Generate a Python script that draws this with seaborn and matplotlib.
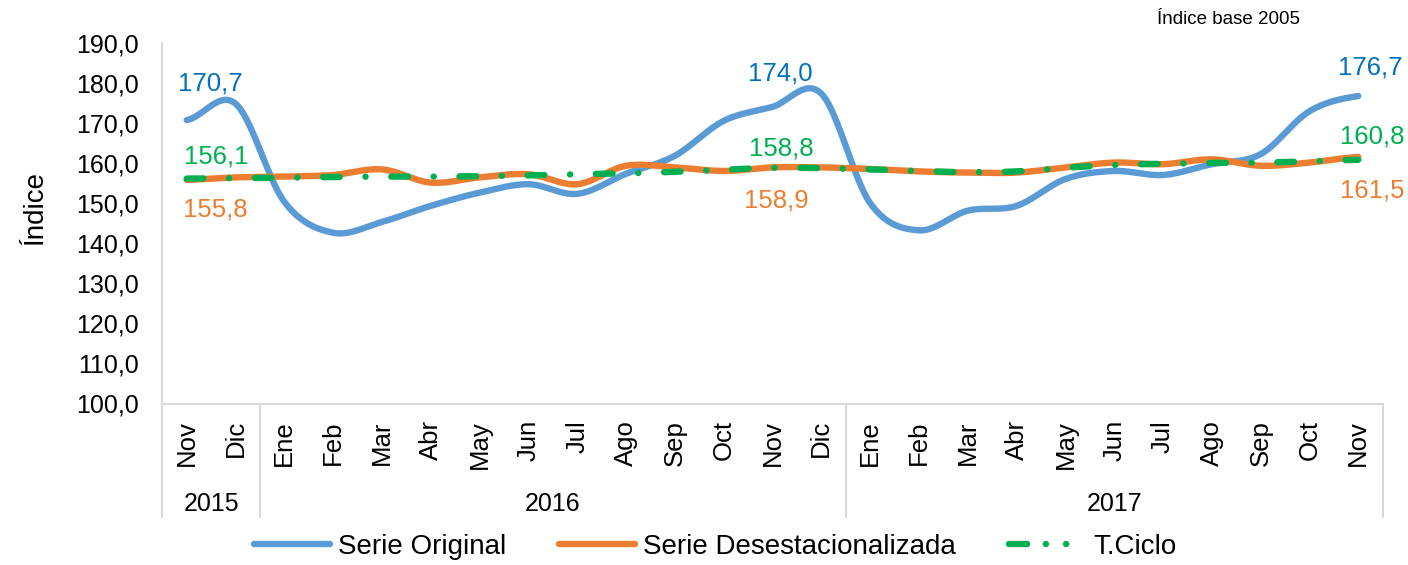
import numpy as np
import pandas as pd
import matplotlib
matplotlib.use('Agg')
import matplotlib.pyplot as plt
import matplotlib.transforms as mtransforms
from matplotlib.lines import Line2D
from matplotlib.ticker import FuncFormatter
import seaborn as sns

# DATA
months = ['Nov', 'Dic',
          'Ene', 'Feb', 'Mar', 'Abr', 'May', 'Jun', 'Jul', 'Ago', 'Sep', 'Oct', 'Nov', 'Dic',
          'Ene', 'Feb', 'Mar', 'Abr', 'May', 'Jun', 'Jul', 'Ago', 'Sep', 'Oct', 'Nov']
years = ['2015', '2016', '2017']
year_sizes = [2, 12, 11]

serie_original = [170.7, 174.8, 150.3, 142.6, 145.3, 149.3, 152.6, 154.7, 152.3, 157.3, 161.8, 170.5, 174.0,
                  177.3, 150.0, 143.2, 148.1, 149.3, 156.0, 158.0, 157.0, 159.7, 162.2, 172.9, 176.7]
serie_desest = [155.8, 156.4, 156.6, 157.0, 158.4, 155.1, 156.4, 157.2, 154.7, 159.3, 158.9, 158.0, 158.9,
                158.9, 158.5, 157.9, 157.6, 157.6, 158.9, 160.1, 159.7, 160.9, 159.3, 160.1, 161.5]
t_ciclo = [156.1, 156.2, 156.3, 156.5, 156.6, 156.6, 156.7, 156.9, 157.2, 157.4, 157.8, 158.3, 158.8,
           158.7, 158.4, 158.0, 157.7, 157.9, 158.8, 159.5, 159.8, 160.0, 160.1, 160.4, 160.8]

series_names = ['Serie Original', 'Serie Desestacionalizada', 'T.Ciclo']
line_colors = ['#5B9BD5', '#ED7D31', '#00B050']
label_colors = ['#0070C0', '#ED7D31', '#00B050']


def smooth(values, n=24):
    # Catmull-Rom curve through the points, like Excel's smoothed lines
    y = np.asarray(values, dtype=float)
    yp = np.concatenate([[y[0]], y, [y[-1]]])
    t = np.linspace(0, 1, n, endpoint=False)
    xs, ys = [], []
    for i in range(len(y) - 1):
        p0, p1, p2, p3 = yp[i:i + 4]
        seg = 0.5 * (2 * p1 + (-p0 + p2) * t + (2 * p0 - 5 * p1 + 4 * p2 - p3) * t ** 2
                     + (-p0 + 3 * p1 - 3 * p2 + p3) * t ** 3)
        xs.extend(i + t)
        ys.extend(seg)
    xs.append(len(y) - 1)
    ys.append(y[-1])
    return pd.DataFrame({'x': xs, 'y': ys})


sns.set_theme(style='white')
plt.rcParams['font.family'] = ['Liberation Sans', 'DejaVu Sans']
plt.rcParams['lines.scale_dashes'] = False

W, H = 1408, 565
fig = plt.figure(figsize=(W / 100, H / 100), dpi=100)
ax = fig.add_axes([162.3 / W, 1 - 403.5 / H, (1382.7 - 162.3) / W, (403.5 - 42.7) / H])

handles = []
for vals, name, col in zip([serie_original, serie_desest, t_ciclo], series_names, line_colors):
    df = smooth(vals)
    sns.lineplot(data=df, x='x', y='y', ax=ax, color=col, lw=4.6,
                 estimator=None, sort=False, label=name, legend=False)
    line = ax.lines[-1]
    line.set_solid_capstyle('round')
    if name == 'T.Ciclo':
        line.set_dashes([12.0, 18.5, 0.1, 18.5])
        line.set_dash_capstyle('round')
        # legend sample drawn as dash + two dots, like the reference
        line = Line2D([], [], color=col, lw=4.6, dashes=[13.0, 13.5, 0.1, 14.5, 0.1, 60.0],
                      dash_capstyle='round')
    handles.append(line)

ax.set_xlim(-0.5, len(months) - 0.5)
ax.set_ylim(100, 190)
ax.set_yticks(np.arange(100, 191, 10))
ax.yaxis.set_major_formatter(FuncFormatter(lambda v, p: f"{v:.1f}".replace('.', ',')))
ax.set_xticks(range(len(months)))
ax.set_xticklabels(months, rotation=90, fontsize=18.5)
ax.tick_params(axis='y', length=0, pad=17, labelsize=18, labelcolor='#000000')
ax.tick_params(axis='x', length=0, pad=12, labelcolor='#000000')
ax.set_xlabel('')
ax.set_ylabel('')

for s in ['top', 'right']:
    ax.spines[s].set_visible(False)
for s in ['left', 'bottom']:
    ax.spines[s].set_color('#D9D9D9')
    ax.spines[s].set_linewidth(1.5)

# year groups under the month labels
trans = mtransforms.blended_transform_factory(ax.transData, ax.transAxes)
ybot = -(517 - 403.5) / (403.5 - 42.7)
edges = np.concatenate([[0], np.cumsum(year_sizes)]) - 0.5
for e in edges:
    ax.plot([e, e], [0, ybot], transform=trans, color='#D9D9D9', lw=1.5, clip_on=False)
for yr, a, b in zip(years, edges[:-1], edges[1:]):
    ax.text((a + b) / 2, -(504 - 403.5) / (403.5 - 42.7), yr, transform=trans,
            ha='center', va='center', fontsize=18, color='#000000')

# data labels (offsets in points)
label_points = [
    (0, serie_original[0], label_colors[0], (16.8, 26.6)),
    (0, t_ciclo[0], label_colors[2], (21.6, 15.8)),
    (0, serie_desest[0], label_colors[1], (20.4, -21.7)),
    (12, serie_original[12], label_colors[0], (5.3, 24.1)),
    (12, t_ciclo[12], label_colors[2], (6.6, 14.0)),
    (12, serie_desest[12], label_colors[1], (3.0, -23.5)),
    (24, serie_original[24], label_colors[0], (8.4, 20.2)),
    (24, t_ciclo[24], label_colors[2], (10.3, 16.6)),
    (24, serie_desest[24], label_colors[1], (10.3, -23.8)),
]
for i, v, c, off in label_points:
    ax.annotate(f"{v:.1f}".replace('.', ','), (i, v), xytext=off, textcoords='offset points',
                ha='center', va='center', fontsize=18.5, color=c)

fig.text(35 / W, 1 - 208 / H, 'Índice', rotation=90, ha='center', va='center',
         fontsize=20, color='#000000')
fig.text(1300 / W, 1 - 20 / H, 'Índice base 2005', ha='right', va='center',
         fontsize=13.5, color='#000000')

fig.legend(handles, series_names, loc='center', bbox_to_anchor=(715 / W, 1 - 547 / H),
           ncol=3, frameon=False, fontsize=20, handlelength=2.75, handletextpad=0.28,
           columnspacing=1.9, labelcolor='#000000')

fig.savefig('out.png', dpi=100)
